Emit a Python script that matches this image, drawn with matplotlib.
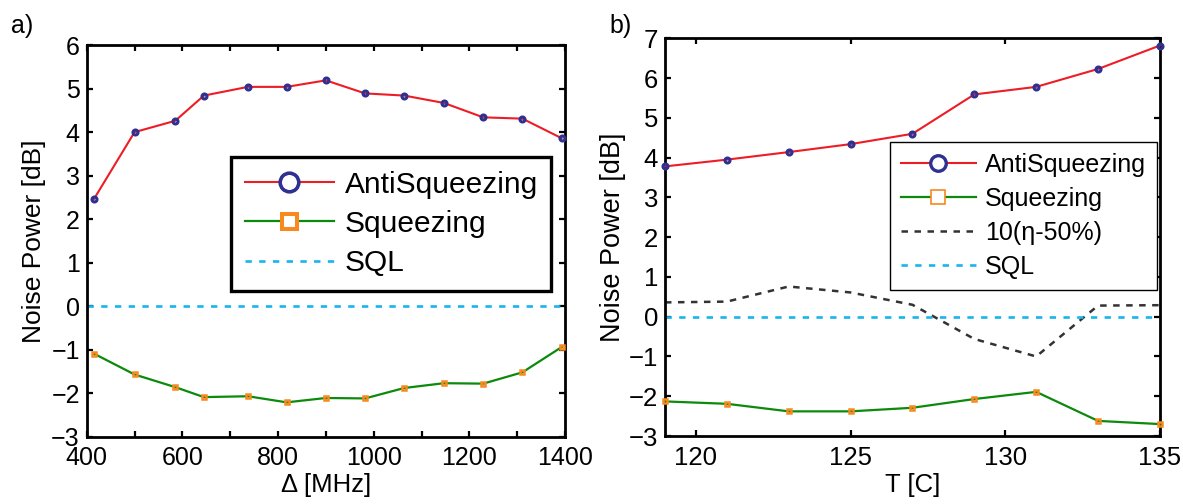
import matplotlib
matplotlib.use('Agg')
import matplotlib.pyplot as plt
from matplotlib.lines import Line2D

# panel a) detuning scan
detuning = [415, 500, 585, 645, 737, 818, 900, 982, 1064, 1147, 1229, 1311, 1393]
anti_a = [2.46, 4.00, 4.26, 4.84, 5.04, 5.04, 5.19, 4.89, 4.84, 4.67, 4.34, 4.31, 3.86]
sq_a = [-1.09, -1.57, -1.86, -2.09, -2.07, -2.21, -2.11, -2.12, -1.88, -1.77,
        -1.78, -1.52, -0.94]

# panel b) temperature scan
temp = [119, 121, 123, 125, 127, 129, 131, 133, 135]
anti_b = [3.78, 3.95, 4.14, 4.34, 4.60, 5.59, 5.78, 6.23, 6.82]
sq_b = [-2.13, -2.19, -2.38, -2.38, -2.29, -2.07, -1.89, -2.62, -2.70]
eta_b = [0.36, 0.38, 0.76, 0.61, 0.30, -0.56, -1.00, 0.28, 0.29]

red = '#ee1c25'
navy = '#2e3192'
green = '#0b8a0b'
orange = '#f7891f'
cyan = '#19b3ee'
grey = '#333333'

plt.rcParams['font.family'] = ['Liberation Sans', 'DejaVu Sans']

fig = plt.figure(figsize=(11.83, 5.04), dpi=100)
ax1 = fig.add_axes([0.0733, 0.1335, 0.4043, 0.777])
ax2 = fig.add_axes([0.5621, 0.1349, 0.4184, 0.789])


def style_axes(ax, fs):
    for s in ax.spines.values():
        s.set_linewidth(2.0)
    ax.tick_params(direction='in', length=4.5, width=1.6, top=True,
                   right=True, labelsize=fs, pad=5)
    ax.tick_params(axis='x', pad=7)


# ---- a)
ax1.plot(detuning, anti_a, '-o', color=red, lw=1.5, ms=3.6, mew=2.2,
         mec=navy, mfc='none', clip_on=False, zorder=3)
ax1.plot(detuning, sq_a, '-s', color=green, lw=1.6, ms=3.4, mew=1.8,
         mec=orange, mfc='none', clip_on=False, zorder=3)
ax1.axhline(0, color=cyan, lw=1.9, ls=(0, (2.4, 2.8)))
ax1.set_xlim(400, 1400)
ax1.set_ylim(-3, 6)
ax1.set_xticks(range(400, 1401, 100))
ax1.set_xticklabels([str(v) if v % 200 == 0 else '' for v in range(400, 1401, 100)])
ax1.set_yticks(range(-3, 7))
style_axes(ax1, 18)
ax1.set_xlabel('Δ [MHz]', fontsize=18.5, labelpad=2)
ax1.set_ylabel('Noise Power [dB]', fontsize=19, labelpad=4)

h1 = [Line2D([], [], color=red, lw=1.5, marker='o', ms=13.4, mew=2.6,
             mec=navy, mfc='white'),
      Line2D([], [], color=green, lw=1.6, marker='s', ms=10.8, mew=2.9,
             mec=orange, mfc='white'),
      Line2D([], [], color=cyan, lw=1.9, ls=(0, (2.4, 2.8)))]
leg1 = ax1.legend(h1, ['AntiSqueezing', 'Squeezing', 'SQL'], fontsize=21.5,
                  loc='lower left', bbox_to_anchor=(0.302, 0.373),
                  handlelength=3.0, labelspacing=0.38, borderpad=0.45,
                  handletextpad=0.35, fancybox=False, framealpha=1,
                  borderaxespad=0)
leg1.get_frame().set_edgecolor('black')
leg1.get_frame().set_linewidth(2.4)

# ---- b)
ax2.plot(temp, anti_b, '-o', color=red, lw=1.5, ms=3.6, mew=2.2,
         mec=navy, mfc='none', clip_on=False, zorder=3)
ax2.plot(temp, sq_b, '-s', color=green, lw=1.6, ms=3.4, mew=1.8,
         mec=orange, mfc='none', clip_on=False, zorder=3)
ax2.plot(temp, eta_b, color=grey, lw=1.8, ls=(0, (2.6, 2.6)))
ax2.axhline(0, color=cyan, lw=1.9, ls=(0, (2.4, 2.8)))
ax2.set_xlim(119, 135)
ax2.set_ylim(-3, 7)
ax2.set_xticks([120, 125, 130, 135])
ax2.set_yticks(range(-3, 8))
style_axes(ax2, 18.5)
ax2.set_xlabel('T [C]', fontsize=18.5, labelpad=2)
ax2.set_ylabel('Noise Power [dB]', fontsize=19.5, labelpad=2)

h2 = [Line2D([], [], color=red, lw=1.5, marker='o', ms=11.2, mew=2.4,
             mec=navy, mfc='white'),
      Line2D([], [], color=green, lw=1.6, marker='s', ms=9.6, mew=1.2,
             mec=orange, mfc='white'),
      Line2D([], [], color=grey, lw=1.8, ls=(0, (2.6, 2.6))),
      Line2D([], [], color=cyan, lw=1.9, ls=(0, (2.4, 2.8)))]
leg2 = ax2.legend(h2, ['AntiSqueezing', 'Squeezing', '10(η-50%)', 'SQL'],
                  fontsize=18, loc='upper right', bbox_to_anchor=(0.9939, 0.740),
                  handlelength=3.0, labelspacing=0.40, borderpad=0.45,
                  handletextpad=0.35, fancybox=False, framealpha=1,
                  borderaxespad=0)
leg2.get_frame().set_edgecolor('black')
leg2.get_frame().set_linewidth(1.0)

fig.text(0.009, 0.925, 'a)', fontsize=18, ha='left', va='bottom')
fig.text(0.515, 0.925, 'b)', fontsize=18, ha='left', va='bottom')

fig.savefig('out.png', dpi=100)
